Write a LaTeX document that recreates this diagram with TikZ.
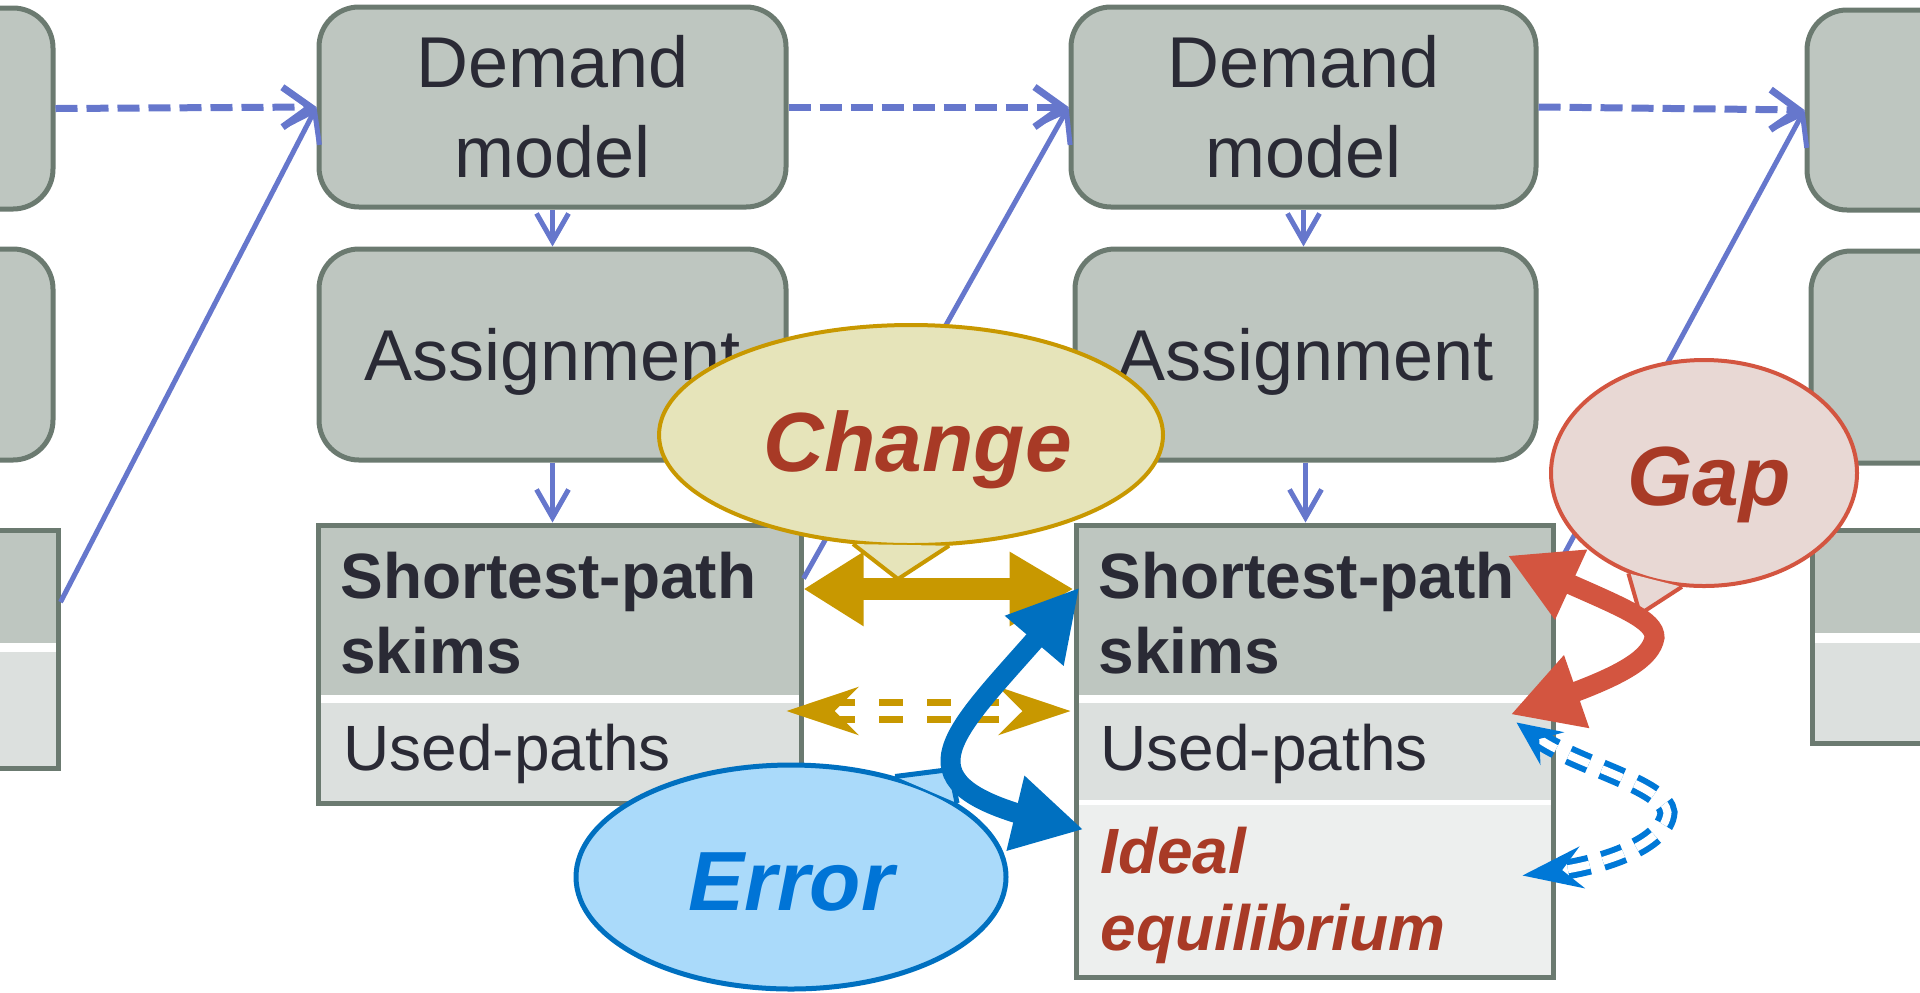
\documentclass[tikz,border=0pt]{standalone}
\usepackage{fontspec}
\setmainfont{Liberation Sans}
\usetikzlibrary{arrows.meta,bending,calc,shapes.geometric}

\definecolor{boxgray}{RGB}{190,198,192}
\definecolor{boxline}{RGB}{107,122,112}
\definecolor{paneltwo}{RGB}{220,224,222}
\definecolor{panelthree}{RGB}{237,239,238}
\definecolor{ink}{RGB}{42,42,53}
\definecolor{flow}{RGB}{102,119,204}
\definecolor{gold}{RGB}{200,152,0}
\definecolor{changefill}{RGB}{230,228,186}
\definecolor{errblue}{RGB}{0,112,192}
\definecolor{errfill}{RGB}{170,218,250}
\definecolor{errtext}{RGB}{0,116,214}
\definecolor{gapred}{RGB}{211,85,64}
\definecolor{gapfill}{RGB}{232,216,212}
\definecolor{labelred}{RGB}{168,58,38}
\definecolor{dashblue}{RGB}{0,120,215}

\begin{document}
\begin{tikzpicture}[x=0.5pt,y=-0.5pt,
  stage/.style={draw=boxline,line width=2.5pt,fill=boxgray,rounded corners=20pt,
    inner sep=0pt,text=ink,font=\fontsize{36}{45}\selectfont,align=center},
  frame/.style={draw=boxline,line width=2.5pt,inner sep=0pt},
  rowtext/.style={anchor=base west,inner sep=0pt,text=ink,font=\fontsize{32}{38}\selectfont},
  feed/.style={flow,line width=3.5pt,dash pattern=on 11pt off 4.5pt,
    -{Straight Barb[length=14pt,width=20pt]}},
  link/.style={flow,line width=2.5pt,-{Straight Barb[length=14pt,width=20pt]}},
  down/.style={flow,line width=2.5pt,-{Straight Barb[length=14pt,width=16pt]}},
  bubble/.style={ellipse,inner sep=0pt,line width=2pt},
  bubbletext/.style={anchor=base,inner sep=0pt,font=\bfseries\itshape\fontsize{42}{50}\selectfont},
  goldarrow/.style={gold,line width=11pt,
    {Triangle[length=30pt,width=35pt]}-{Triangle[length=32pt,width=35pt]}},
  golddash/.style={gold,line width=3.5pt,double=white,double distance=5pt,
    dash pattern=on 12pt off 12pt,
    {Stealth[length=36pt,width=24pt,inset=12pt]}-{Stealth[length=36pt,width=24pt,inset=12pt]}},
  errarrow/.style={errblue,line width=10pt,
    {Triangle[length=35pt,width=36pt]}-{Triangle[length=35pt,width=36pt]}},
  gaparrow/.style={gapred,line width=10pt,
    {Triangle[length=35pt,width=36pt]}-{Triangle[length=35pt,width=36pt]}},
  usedarrow/.style={dashblue,line width=3pt,double=white,double distance=4pt,
    dash pattern=on 11pt off 7pt,
    {Stealth[length=22pt,width=20pt,inset=8pt,quick]}-{Stealth[length=30pt,width=21pt,inset=10pt,quick]}}
]
\useasboundingbox (0,0) rectangle (1920,992);
\clip (0,0) rectangle (1920,992);

% ---- section fills of the skim tables ----
\fill[boxgray] (-40,530) rectangle (58,643);
\fill[white] (-40,643) rectangle (58,652);
\fill[paneltwo] (-40,652) rectangle (58,768);

\fill[boxgray] (318,525) rectangle (801,695);
\fill[white] (318,695) rectangle (801,703);
\fill[paneltwo] (318,703) rectangle (801,803);

\fill[boxgray] (1076,525) rectangle (1553,695);
\fill[white] (1076,695) rectangle (1553,703);
\fill[paneltwo] (1076,703) rectangle (1553,800);
\fill[white] (1076,800) rectangle (1553,805);
\fill[panelthree] (1076,805) rectangle (1553,977);

\fill[boxgray] (1812,530) rectangle (1925,633);
\fill[white] (1812,633) rectangle (1925,643);
\fill[paneltwo] (1812,643) rectangle (1925,743);

% ---- model stages ----
\node[stage,minimum width=56.5pt,minimum height=100.5pt] (dmL) at (-3.5,108.5) {};
\node[stage,minimum width=56.5pt,minimum height=105.5pt] (asL) at (-3.5,354.5) {};
\node[frame,minimum width=49pt,minimum height=119pt] (spL) at (9,649) {};

\node[stage,minimum width=233.5pt,minimum height=100pt] (dmA) at (552.5,107) {Demand\\model};
\node[stage,minimum width=233.5pt,minimum height=105.5pt,text depth=0pt] (asA) at (552.5,354.5) {Assignment};
\node[frame,minimum width=241.5pt,minimum height=139pt] (spA) at (559.5,664) {};

\node[stage,minimum width=232.5pt,minimum height=100pt] (dmB) at (1303.5,107) {Demand\\model};
\node[stage,minimum width=230.5pt,minimum height=105.5pt,text depth=0pt] (asB) at (1305.5,354.5) {Assignment};
\node[frame,minimum width=238.5pt,minimum height=226pt] (spB) at (1314.5,751) {};

\node[stage,minimum width=86.5pt,minimum height=100pt] (dmR) at (1893.5,110) {};
\node[stage,minimum width=84.5pt,minimum height=106pt] (asR) at (1895.5,357) {};
\node[frame,minimum width=56.5pt,minimum height=106.5pt] (spR) at (1868.5,636.5) {};

% ---- table texts ----
\node[rowtext,font=\bfseries\fontsize{32}{38}\selectfont] (spAa) at (340,598) {Shortest-path};
\node[rowtext,font=\bfseries\fontsize{32}{38}\selectfont] (spAb) at (340,673) {skims};
\node[rowtext] (spAc) at (343,770) {Used-paths};

\node[rowtext,font=\bfseries\fontsize{32}{38}\selectfont] (spBa) at (1098,598) {Shortest-path};
\node[rowtext,font=\bfseries\fontsize{32}{38}\selectfont] (spBb) at (1098,673) {skims};
\node[rowtext] (spBc) at (1100,770) {Used-paths};
\node[rowtext,text=labelred,font=\bfseries\itshape\fontsize{32}{38}\selectfont] (spBd) at (1100,873) {Ideal};
\node[rowtext,text=labelred,font=\bfseries\itshape\fontsize{32}{38}\selectfont] (spBe) at (1100,950) {equilibrium};

% ---- flow between iterations ----
\draw[feed] (dmL.east) -- (dmA.west);
\draw[feed] (dmA.east) -- (dmB.west);
\draw[feed] (dmB.east) -- (dmR.west);

\draw[link] ($(spL.north east)!0.307!(spL.south east)$) -- (dmA.west);
\draw[link] ($(spA.north east)!0.198!(spA.south east)$) -- (dmB.west);
\draw[link] ($(spB.north east)!0.104!(spB.south east)$) -- (dmR.west);

\draw[down] (dmA.south) -- (dmA.south |- asA.north);
\draw[down] (asA.south) -- (asA.south |- spA.north);
\draw[down] (dmB.south) -- (dmB.south |- asB.north);
\draw[down] (asB.south) -- (asB.south |- spB.north);

% ---- callouts ----
\node[bubble,draw=gold,fill=changefill,minimum width=252pt,minimum height=110pt] (chg) at (911,435) {};
\filldraw[draw=gold,fill=changefill,line width=2pt] (chg.-118) -- ($(chg.south)+(-13,32)$) -- (chg.-71);

\node[bubble,draw=errblue,fill=errfill,line width=2.5pt,minimum width=215pt,minimum height=112pt] (err) at (791,877) {};
\filldraw[draw=errblue,fill=errfill,line width=2.5pt] (err.44) -- ($(err.north)+(159,7)$) -- (err.24);

\node[bubble,draw=gapred,fill=gapfill,minimum width=153pt,minimum height=113pt] (gap) at (1704,473) {};
\filldraw[draw=gapred,fill=gapfill,line width=2pt] (gap.-127) -- ($(gap.south)+(-64,26)$) -- (gap.-101);

% ---- comparison arrows ----
\coordinate (rowA) at (0,589);
\coordinate (rowB) at (0,711);
\draw[goldarrow] (spA.east |- rowA) -- (spB.west |- rowA);
\draw[golddash] ($(spA.east |- rowB)+(-17,0)$) -- ($(spB.west |- rowB)+(-3,0)$);

\draw[errarrow] ($(spB.north west)+(6,65)$) .. controls (960,735) and (860,785) .. ($(spB.north west)+(10,307)$);

\draw[gaparrow] ($(spB.north east)+(-48,33)$) .. controls (1600,600) and (1655,615) ..
  ($(spB.north east)+(99,115)$) .. controls (1650,665) and (1600,685) .. ($(spB.north east)+(-45,192)$);

\draw[usedarrow] ($(spB.north east)+(-39,200)$) .. controls (1575,765) and (1665,785) ..
  ($(spB.north east)+(112,290)$) .. controls (1665,845) and (1600,865) .. ($(spB.north east)+(-33,353)$);

% ---- callout labels ----
\node[bubbletext,text=labelred] (chgt) at (918,471) {Change};
\node[bubbletext,text=errtext] (errt) at (791,910) {Error};
\node[bubbletext,text=labelred] (gapt) at (1709,505) {Gap};
\end{tikzpicture}
\end{document}
